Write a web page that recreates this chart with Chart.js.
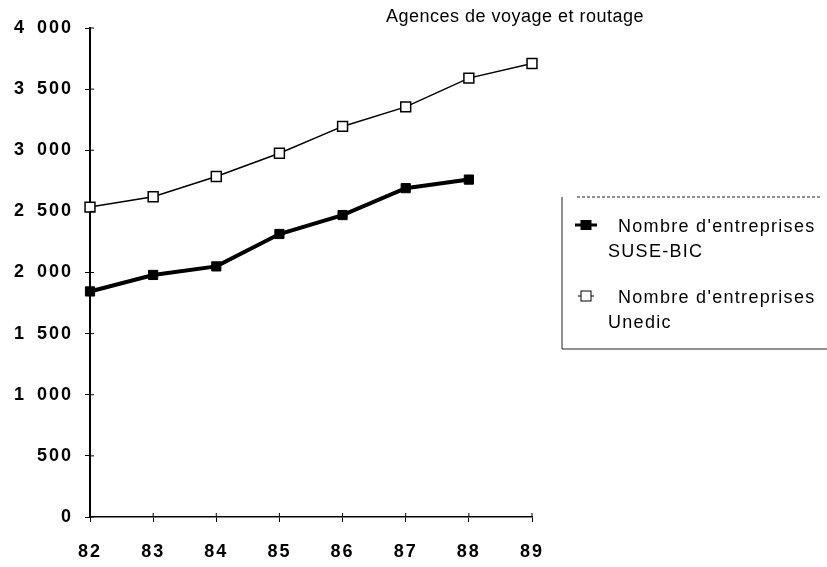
<!DOCTYPE html>
<html>
<head>
<meta charset="utf-8">
<script src="https://cdn.jsdelivr.net/npm/chart.js@4/dist/chart.umd.min.js"></script>
<style>
  html, body { margin: 0; padding: 0; background: #fff; }
  #wrap { width: 827px; height: 567px; position: relative; }
</style>
</head>
<body>
<div id="wrap"><canvas id="chart" width="827" height="567"></canvas></div>
<script>
const years = ['82', '83', '84', '85', '86', '87', '88', '89'];
const suseBic = [1845, 1980, 2050, 2315, 2470, 2690, 2760, null];
const unedic = [2535, 2620, 2785, 2975, 3195, 3355, 3590, 3710];
const yTicks = [0, 500, 1000, 1500, 2000, 2500, 3000, 3500, 4000];
const chartTitle = 'Agences de voyage et routage';
const seriesNames = [['Nombre d\'entreprises', 'SUSE-BIC'], ['Nombre d\'entreprises', 'Unedic']];

// thousands separated by a wide space, as in the print
const fmt = v => String(v).replace(/\B(?=(\d{3})+(?!\d))/g, '\u2002');
const FONT = '"Liberation Sans", Arial, sans-serif';

// wider letter spacing for the tick labels, like the old print
const spacingPlugin = {
  id: 'spacing',
  beforeDraw(chart) { chart.ctx.letterSpacing = '2px'; }
};

// title, tick marks crossing the axes, and the boxed legend on the right
const sidePlugin = {
  id: 'side',
  afterDraw(chart) {
    const ctx = chart.ctx;
    const a = chart.chartArea;
    const xs = chart.scales.x, ys = chart.scales.y;
    ctx.save();

    ctx.strokeStyle = '#000';
    ctx.lineWidth = 1;
    ctx.beginPath();
    yTicks.forEach(v => {
      const py = ys.getPixelForValue(v);
      ctx.moveTo(a.left, py); ctx.lineTo(a.left + 4, py);
    });
    years.forEach((y, i) => {
      const px = xs.getPixelForValue(i);
      ctx.moveTo(px, a.bottom); ctx.lineTo(px, a.bottom - 4);
    });
    ctx.stroke();

    ctx.fillStyle = '#000';
    ctx.letterSpacing = '0.5px';
    ctx.font = '18px ' + FONT;
    ctx.textAlign = 'center';
    ctx.textBaseline = 'middle';
    ctx.fillText(chartTitle, a.right - 17, 17);

    // legend box
    const bx = a.right + 30, top = 197, bottom = 349;
    ctx.strokeStyle = '#222';
    ctx.lineWidth = 1;
    ctx.beginPath();
    ctx.moveTo(bx, top); ctx.lineTo(bx, bottom); ctx.lineTo(827, bottom);
    ctx.stroke();
    ctx.setLineDash([3, 2]);
    ctx.beginPath();
    ctx.moveTo(bx + 15, top); ctx.lineTo(822, top);
    ctx.stroke();
    ctx.setLineDash([]);
    ctx.strokeStyle = '#000';

    ctx.textAlign = 'left';
    ctx.letterSpacing = '1.3px';
    ctx.font = '18px ' + FONT;
    const rows = [225, 296];
    chart.data.datasets.forEach((ds, i) => {
      const my = rows[i];
      const mx = bx + 24;
      if (i === 0) {
        ctx.lineWidth = 3;
        ctx.beginPath(); ctx.moveTo(mx - 11, my); ctx.lineTo(mx + 11, my); ctx.stroke();
        ctx.fillStyle = '#000';
        ctx.fillRect(mx - 5.5, my - 5, 11, 10);
      } else {
        ctx.lineWidth = 1;
        ctx.beginPath(); ctx.moveTo(mx - 8, my); ctx.lineTo(mx + 8, my); ctx.stroke();
        ctx.fillStyle = '#fff';
        ctx.fillRect(mx - 5, my - 5, 10, 10);
        ctx.strokeRect(mx - 5, my - 5, 10, 10);
      }
      ctx.fillStyle = '#000';
      ctx.fillText(seriesNames[i][0], bx + 56, my + 2);
      ctx.fillText(seriesNames[i][1], bx + 46, my + 27);
    });
    ctx.restore();
  }
};

new Chart(document.getElementById('chart').getContext('2d'), {
  type: 'line',
  data: {
    labels: years,
    datasets: [{
      label: 'Nombre d\'entreprises SUSE-BIC',
      data: suseBic,
      borderColor: '#000',
      backgroundColor: '#000',
      borderWidth: 4,
      pointStyle: 'rect',
      pointRadius: 6.5,
      pointBorderWidth: 1,
      tension: 0
    }, {
      label: 'Nombre d\'entreprises Unedic',
      data: unedic,
      borderColor: '#000',
      backgroundColor: '#fff',
      borderWidth: 1.5,
      pointStyle: 'rect',
      pointRadius: 7,
      pointBorderWidth: 1.5,
      tension: 0
    }]
  },
  options: {
    responsive: false,
    animation: false,
    layout: { padding: { top: 28, right: 295, left: 0, bottom: 0 } },
    plugins: {
      legend: { display: false },
      title: { display: false },
      tooltip: { enabled: false }
    },
    scales: {
      x: {
        offset: false,
        grid: { drawOnChartArea: false, color: '#000', tickLength: 5 },
        border: { color: '#000', width: 1.5 },
        ticks: {
          color: '#000',
          padding: 19,
          maxRotation: 0,
          font: { family: FONT, size: 18, weight: 'bold' }
        },
        afterFit(s) { s.height = 50; }
      },
      y: {
        min: 0,
        max: 4000,
        afterBuildTicks(s) { s.ticks = yTicks.map(v => ({ value: v })); },
        grid: { drawOnChartArea: false, color: '#000', tickLength: 5 },
        border: { color: '#000', width: 2 },
        ticks: {
          color: '#000',
          padding: 12,
          callback: v => fmt(v),
          font: { family: FONT, size: 18, weight: 'bold' }
        },
        afterFit(s) { s.width = 90; }
      }
    }
  },
  plugins: [spacingPlugin, sidePlugin]
});
</script>
</body>
</html>
